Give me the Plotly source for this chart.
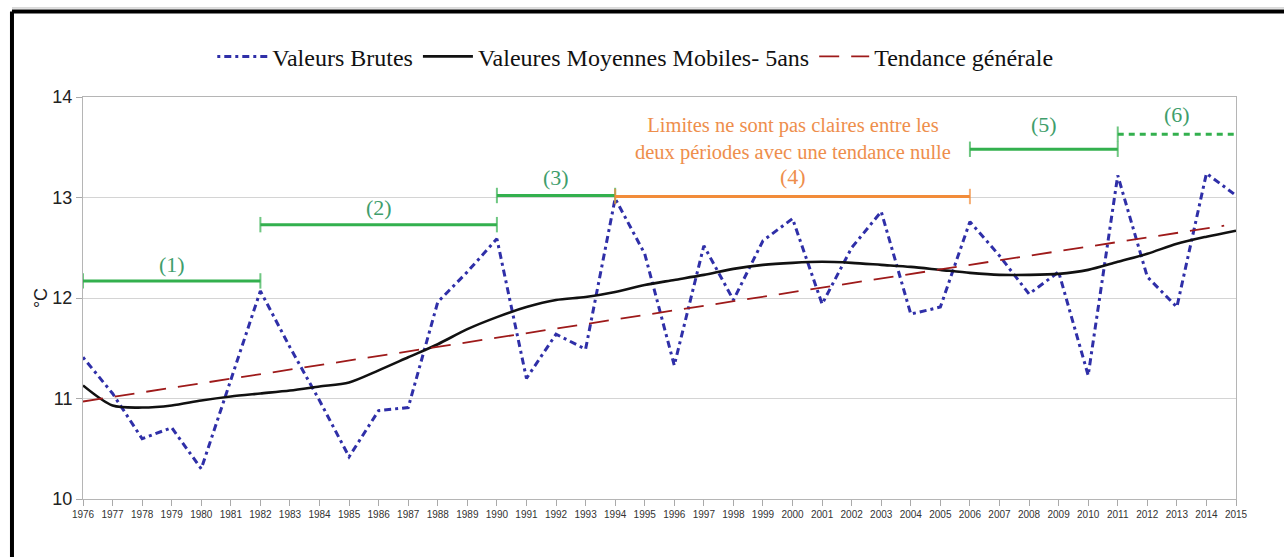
import plotly.graph_objects as go

# ---------------- data ----------------
years = list(range(1976, 2016))
raw_values = [11.41, 11.05, 10.60, 10.71, 10.30, 11.18, 12.07, 11.51, 10.98, 10.42,
              10.88, 10.91, 11.96, 12.26, 12.59, 11.20, 11.64, 11.49, 12.99, 12.44,
              11.33, 12.52, 11.98, 12.57, 12.79, 11.94, 12.50, 12.86, 11.84, 11.91,
              12.76, 12.42, 12.04, 12.26, 11.23, 13.22, 12.21, 11.91, 13.24, 13.02]
moving_avg = [11.13, 10.93, 10.91, 10.93, 10.98, 11.02, 11.05, 11.08, 11.12, 11.16,
              11.28, 11.41, 11.54, 11.69, 11.81, 11.91, 11.98, 12.01, 12.06, 12.13,
              12.18, 12.23, 12.29, 12.33, 12.35, 12.36, 12.35, 12.33, 12.31, 12.28,
              12.25, 12.23, 12.23, 12.24, 12.28, 12.36, 12.44, 12.54, 12.61, 12.67]
trend_years = [1976, 2014.6]
trend_values = [10.97, 12.72]

period_labels = ["(1)", "(2)", "(3)", "(4)", "(5)", "(6)"]
period_start = [1976, 1982, 1990, 1994, 2006, 2011]
period_end = [1982, 1990, 1994, 2006, 2011, 2015]
period_level = [12.17, 12.73, 13.02, 13.01, 13.48, 13.63]
period_label_y = [12.33, 12.90, 13.20, 13.21, 13.73, 13.83]
period_kind = ["green", "green", "green", "orange", "green", "green-dashed"]

note_text = "Limites ne sont pas claires entre les<br>deux périodes avec une tendance nulle"
note_x = 2000
note_y = 13.58

y_ticks = [10, 11, 12, 13, 14]

legend_names = ["Valeurs Brutes", "Valeures Moyennes Mobiles- 5ans", "Tendance générale"]

# ---------------- styles ----------------
GREEN = "#33b04e"
GREEN_TXT = "#3f9e6c"
ORANGE = "#f28c3a"
ORANGE_TXT = "#ee8e4c"
SERIF = "Liberation Serif"
SANS = "Liberation Sans"

fig = go.Figure()

fig.add_trace(go.Scatter(
    x=years, y=raw_values, mode="lines", name=legend_names[0],
    line=dict(color="#2f2fa8", width=3, dash="3px,4px,7px,4px"),
))
fig.add_trace(go.Scatter(
    x=years, y=moving_avg, mode="lines", name=legend_names[1],
    line=dict(color="#111111", width=2.6, shape="spline", smoothing=0.8),
))
fig.add_trace(go.Scatter(
    x=trend_years, y=trend_values, mode="lines", name=legend_names[2],
    line=dict(color="#9e1a1a", width=1.8, dash="20px,12px"),
))

# period bars
for lab, x0, x1, lvl, ly, kind in zip(period_labels, period_start, period_end,
                                      period_level, period_label_y, period_kind):
    color = ORANGE if kind == "orange" else GREEN
    dash = "6px,5px" if kind == "green-dashed" else "solid"
    sizes = [11, 0] if kind == "green-dashed" else [11, 11]
    fig.add_trace(go.Scatter(
        x=[x0, x1], y=[lvl, lvl], mode="lines+markers", showlegend=False,
        hoverinfo="skip",
        line=dict(color=color, width=3, dash=dash),
        marker=dict(symbol="line-ns", size=sizes, line=dict(color=color, width=2)),
        cliponaxis=False,
    ))
    fig.add_annotation(
        x=(x0 + x1) / 2, y=ly, text=lab, showarrow=False,
        font=dict(family=SERIF, size=22, color=ORANGE_TXT if kind == "orange" else GREEN_TXT),
    )

fig.add_annotation(
    x=note_x, y=note_y, text=note_text, showarrow=False,
    font=dict(family=SERIF, size=20.5, color=ORANGE_TXT),
)

# frame lines (page border)
fig.add_shape(type="line", xref="paper", yref="paper", x0=-0.0616, x1=1.05,
              y0=1.2127, y1=1.2127, line=dict(color="black", width=4))
fig.add_shape(type="line", xref="paper", yref="paper", x0=-0.0616, x1=1.05,
              y0=1.2215, y1=1.2215, line=dict(color="#bbbbbb", width=1))
fig.add_shape(type="line", xref="paper", yref="paper", x0=-0.0616, x1=-0.0616,
              y0=-0.16, y1=1.2127, line=dict(color="black", width=4))

fig.update_layout(
    width=1284, height=557,
    margin=dict(l=83, r=48, t=97, b=58),
    paper_bgcolor="white", plot_bgcolor="white",
    legend=dict(orientation="h", x=0.479, xanchor="center", y=1.10, yanchor="middle",
                font=dict(family=SERIF, size=24, color="#111111"),
                bgcolor="rgba(0,0,0,0)", itemwidth=50),
    xaxis=dict(range=[1976, 2015], tickmode="array", tickvals=years,
               ticktext=[str(y) for y in years], tickangle=0,
               tickfont=dict(family=SANS, size=10, color="#333333"),
               ticks="outside", ticklen=6, tickcolor="#aaaaaa",
               showgrid=False, showline=True, linecolor="#b5b5b5", linewidth=1,
               mirror=True, zeroline=False),
    yaxis=dict(range=[10, 14], tickvals=y_ticks,
               tickfont=dict(family=SANS, size=18, color="#222222"),
               ticks="outside", ticklen=6, tickcolor="#aaaaaa",
               showgrid=True, gridcolor="#d4d4d4", gridwidth=1,
               showline=True, linecolor="#b5b5b5", linewidth=1, mirror=True,
               zeroline=False,
               title=dict(text="°C", font=dict(family=SANS, size=18, color="#222222"),
                          standoff=0)),
)

fig.write_html("out.html", config={"displayModeBar": False},
               post_script="document.body.style.margin='0';document.body.style.overflow='hidden';")
